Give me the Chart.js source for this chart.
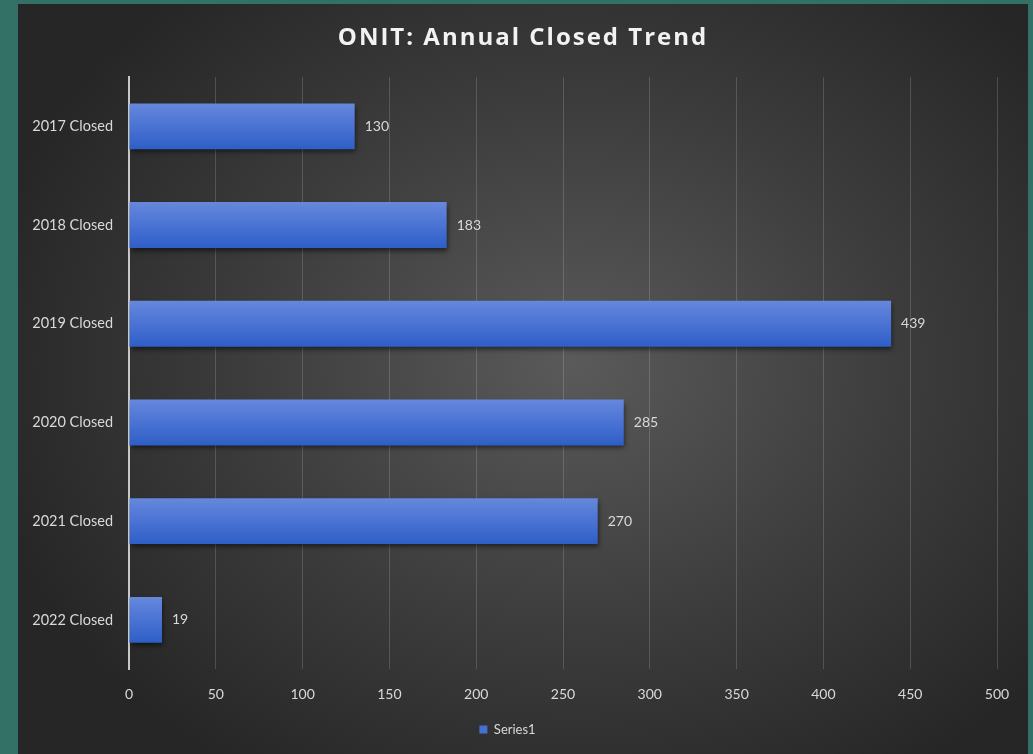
<!DOCTYPE html>
<html lang="en">
<head>
  <meta charset="UTF-8" />
  <title>ONIT: Annual Closed Trend</title>
  <script src="https://cdn.jsdelivr.net/npm/chart.js"></script>
  <style>
    body { margin: 0; background: #337167; width: 1033px; height: 754px; overflow: hidden; }
    .panel {
      position: absolute; left: 18px; top: 4px; width: 1010px; height: 750px;
      background: radial-gradient(ellipse 60% 65% at 55% 48%, #5a5a5a 0%, #3c3c3c 55%, #262626 100%);
    }
  </style>
</head>
<body>
  <div class="panel">
    <canvas id="chart" width="1010" height="750"></canvas>
  </div>

  <script>
    const categories = ["2017 Closed", "2018 Closed", "2019 Closed", "2020 Closed", "2021 Closed", "2022 Closed"];
    const series1 = [130, 183, 439, 285, 270, 19];
    const xTicks = [0, 50, 100, 150, 200, 250, 300, 350, 400, 450, 500];
    const chartTitle = "ONIT: Annual Closed Trend";

    const FONT = "Lato, 'Open Sans', sans-serif";
    const TEXT = "#d9d9d9";

    // blue bar with a light-to-dark vertical gradient
    function barFill(ctx) {
      const chart = ctx.chart;
      const yScale = chart.scales.y;
      if (!chart.chartArea || !yScale) return "#4470d0";
      const y = yScale.getPixelForValue(ctx.dataIndex);
      const g = chart.ctx.createLinearGradient(0, y - 23, 0, y + 23);
      g.addColorStop(0, "#6688dc");
      g.addColorStop(0.5, "#4a73d4");
      g.addColorStop(1, "#2e5ec6");
      return g;
    }

    const barShadow = {
      id: "barShadow",
      beforeDatasetsDraw(chart) {
        const c = chart.ctx;
        c.save();
        c.shadowColor = "rgba(0,0,0,0.55)";
        c.shadowBlur = 5;
        c.shadowOffsetX = 1;
        c.shadowOffsetY = 3;
      },
      afterDatasetsDraw(chart) {
        chart.ctx.restore();
      }
    };

    const valueLabels = {
      id: "valueLabels",
      afterDatasetsDraw(chart) {
        const c = chart.ctx;
        const meta = chart.getDatasetMeta(0);
        c.save();
        c.fillStyle = TEXT;
        c.font = "14px " + FONT;
        c.textAlign = "left";
        c.textBaseline = "middle";
        meta.data.forEach((bar, i) => {
          c.fillText(String(series1[i]), bar.x + 10, bar.y);
        });
        c.restore();
      }
    };

    // title centred on the whole panel, with a little letter spacing
    const panelTitle = {
      id: "panelTitle",
      afterDraw(chart) {
        const c = chart.ctx;
        c.save();
        c.fillStyle = "#f2f2f2";
        c.font = "bold 24px 'Open Sans', sans-serif";
        c.letterSpacing = "2px";
        c.textAlign = "center";
        c.textBaseline = "middle";
        c.fillText(chartTitle, chart.width / 2, 34);
        c.restore();
      }
    };

    new Chart(document.getElementById("chart"), {
      type: "bar",
      data: {
        labels: categories,
        datasets: [{
          label: "Series1",
          data: series1,
          backgroundColor: barFill,
          borderWidth: 0,
          barPercentage: 0.92,
          categoryPercentage: 0.505
        }]
      },
      options: {
        indexAxis: "y",
        responsive: false,
        animation: false,
        layout: { padding: { left: 0, right: 31, top: 73, bottom: 8 } },
        scales: {
          x: {
            min: 0,
            max: 500,
            afterBuildTicks(scale) { scale.ticks = xTicks.map(v => ({ value: v })); },
            grid: { color: "rgba(255,255,255,0.16)", lineWidth: 1, drawTicks: false },
            border: { display: false },
            ticks: { color: TEXT, font: { family: FONT, size: 14 }, padding: 17 }
          },
          y: {
            afterFit(scale) { scale.width = 111; },
            grid: { display: false },
            border: { display: true, color: "#c8c8c8", width: 2 },
            ticks: { color: TEXT, font: { family: FONT, size: 14.5 }, padding: 8 }
          }
        },
        plugins: {
          title: { display: false },
          legend: {
            position: "bottom",
            labels: {
              color: TEXT,
              font: { family: FONT, size: 13 },
              boxWidth: 8,
              boxHeight: 8,
              padding: 3,
              generateLabels() {
                return [{ text: "Series1", fillStyle: "#4470d0", strokeStyle: "#4470d0", lineWidth: 0, fontColor: TEXT }];
              }
            }
          },
          tooltip: { enabled: false }
        }
      },
      plugins: [barShadow, valueLabels, panelTitle]
    });
  </script>
</body>
</html>
